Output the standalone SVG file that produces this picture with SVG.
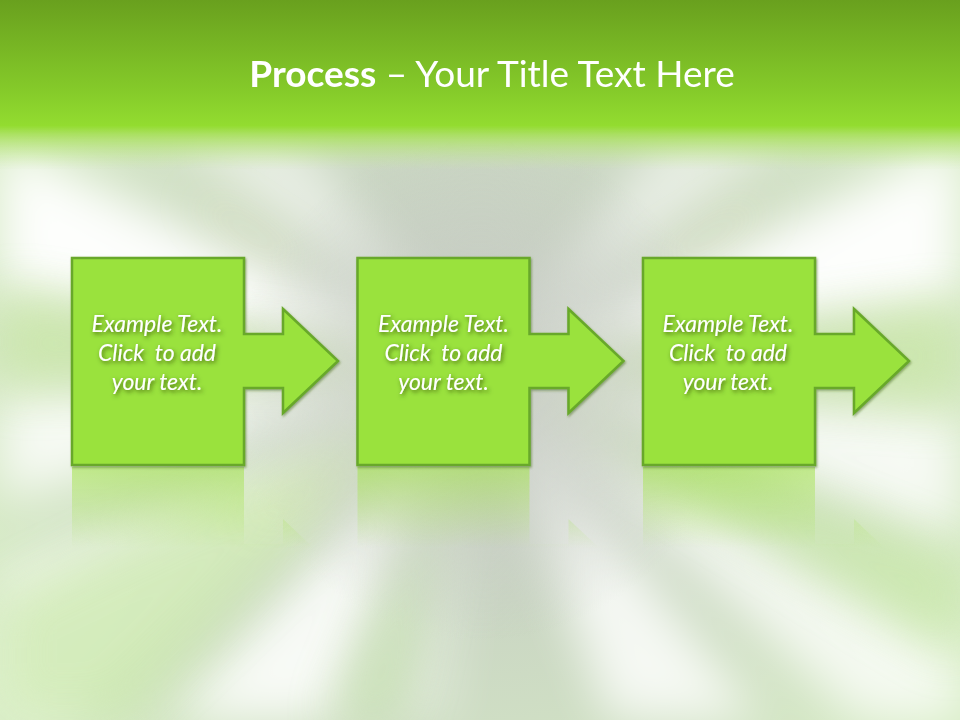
<svg xmlns="http://www.w3.org/2000/svg" width="960" height="720" viewBox="0 0 960 720">
<defs>
<style>
.shape{fill:#9ae23c;stroke:#67a82a;stroke-width:2.5}
.lbl{font-family:Lato,"Open Sans","Liberation Sans",sans-serif;font-style:italic;font-size:23px;fill:#ffffff;text-anchor:middle;white-space:pre}
.title{font-family:Lato,"Open Sans","Liberation Sans",sans-serif;font-size:37px;fill:#ffffff;text-anchor:middle}
</style>
<linearGradient id="band" x1="0" y1="0" x2="0" y2="1">
<stop offset="0" stop-color="#69a01e"/>
<stop offset="0.55" stop-color="#86cc2a"/>
<stop offset="0.74" stop-color="#93dc30"/>
<stop offset="0.8" stop-color="#a8e05a" stop-opacity="0.85"/>
<stop offset="1" stop-color="#c8ec9c" stop-opacity="0"/>
</linearGradient>
<radialGradient id="bg" cx="480" cy="380" r="560" gradientUnits="userSpaceOnUse">
<stop offset="0" stop-color="#c6cbc3"/>
<stop offset="0.4" stop-color="#cad6c3"/>
<stop offset="1" stop-color="#d8edc6"/>
</radialGradient>
<radialGradient id="core" cx="480" cy="390" r="250" gradientUnits="userSpaceOnUse">
<stop offset="0" stop-color="#c5c9c2" stop-opacity="0.9"/>
<stop offset="0.6" stop-color="#c8cdc5" stop-opacity="0.45"/>
<stop offset="1" stop-color="#c8cdc5" stop-opacity="0"/>
</radialGradient>
<filter id="blur" x="-20%" y="-20%" width="140%" height="140%"><feGaussianBlur stdDeviation="24"/></filter>
<filter id="shadow" x="-20%" y="-30%" width="140%" height="160%"><feDropShadow dx="1.5" dy="2" stdDeviation="2" flood-color="#2f4a10" flood-opacity="0.8"/></filter>
<filter id="tshadow" x="-10%" y="-30%" width="120%" height="160%"><feDropShadow dx="1" dy="1.5" stdDeviation="1" flood-color="#3d6410" flood-opacity="0.5"/></filter>
<linearGradient id="refl" gradientUnits="userSpaceOnUse" x1="0" y1="467" x2="0" y2="548">
<stop offset="0" stop-color="#a4e34e" stop-opacity="0.6"/>
<stop offset="1" stop-color="#a4e34e" stop-opacity="0"/>
</linearGradient>
<path id="shp" d="M72,258 H244 V334 H283 V309 L338,361 L283,413 V388 H244 V465 H72 Z"/>
<path id="rshp" d="M72,467 H244 V544 H283 V519 L338,571 L283,623 V598 H244 V674 H72 Z"/>
</defs>
<rect width="960" height="720" fill="url(#bg)"/>
<g filter="url(#blur)" fill="#ffffff">
<polygon points="480,370 0,140 0,290" opacity="0.95"/>
<polygon points="480,370 0,390 0,500" opacity="0.8"/>
<polygon points="480,370 960,140 960,300" opacity="0.95"/>
<polygon points="480,370 960,410 960,540" opacity="0.8"/>
<polygon points="480,370 170,720 330,720" opacity="0.85"/>
<polygon points="480,370 610,720 760,720" opacity="0.8"/>
<polygon points="480,370 860,720 960,720 960,650" opacity="0.75"/>
<polygon points="480,370 0,570 0,720 60,720" opacity="0.6"/>
<polygon points="480,370 170,140 300,140" opacity="0.55"/>
<polygon points="480,370 660,140 790,140" opacity="0.55"/>
<polygon points="480,370 390,720 450,720" opacity="0.35"/>
</g>
<g filter="url(#blur)" opacity="0.6">
<polygon points="480,370 0,290 0,390" fill="#c8e8a0"/>
<polygon points="480,370 960,300 960,410" fill="#c8e8a0"/>
<polygon points="480,370 0,600 0,720 120,720" fill="#c4e6a0"/>
<polygon points="480,370 960,560 960,660" fill="#c6e8a3"/>
<polygon points="480,370 330,720 400,720" fill="#c8e4b0"/>
</g>
<g opacity="0.5" filter="url(#blur)" stroke="#f2f7a8" stroke-width="8">
<line x1="200" y1="200" x2="300" y2="265"/>
<line x1="760" y1="205" x2="660" y2="265"/>
<line x1="250" y1="520" x2="340" y2="470"/>
</g>
<rect width="960" height="720" fill="url(#core)"/>
<rect x="0" y="0" width="960" height="170" fill="url(#band)"/>
<text class="title" x="492" y="87"><tspan font-weight="bold">Process</tspan> – Your Title Text Here</text>
<g id="node1">
<use href="#rshp" fill="url(#refl)"/>
<use href="#shp" class="shape" filter="url(#tshadow)"/>
<g filter="url(#shadow)"><text class="lbl" x="157" y="332">Example Text.</text><text class="lbl" x="157" y="361">Click  to add</text><text class="lbl" x="157" y="390">your text.</text></g>
</g>
<g id="node2" transform="translate(285.5,0)">
<use href="#rshp" fill="url(#refl)"/>
<use href="#shp" class="shape" filter="url(#tshadow)"/>
<g filter="url(#shadow)"><text class="lbl" x="158" y="332">Example Text.</text><text class="lbl" x="158" y="361">Click  to add</text><text class="lbl" x="158" y="390">your text.</text></g>
</g>
<g id="node3" transform="translate(571,0)">
<use href="#rshp" fill="url(#refl)"/>
<use href="#shp" class="shape" filter="url(#tshadow)"/>
<g filter="url(#shadow)"><text class="lbl" x="157" y="332">Example Text.</text><text class="lbl" x="157" y="361">Click  to add</text><text class="lbl" x="157" y="390">your text.</text></g>
</g>
<g id="connectors"></g>
</svg>
